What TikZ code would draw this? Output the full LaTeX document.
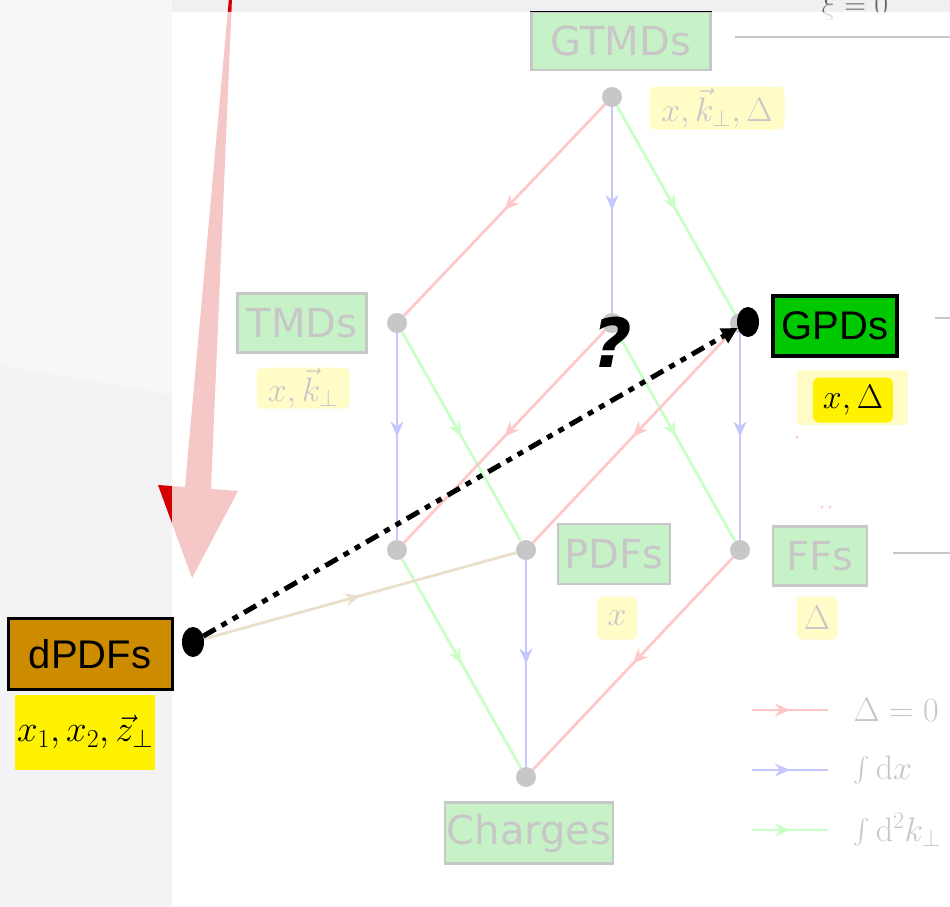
\RequirePackage{fix-cm}
\documentclass[tikz,border=0pt]{standalone}
\usepackage{amsmath}
\usepackage{fontspec}
\newfontfamily\dejavu{DejaVu Sans}
\newfontfamily\arialike{Liberation Sans}
\usetikzlibrary{arrows.meta,decorations.markings,shapes.geometric,positioning}
\definecolor{boxgreen}{RGB}{0,200,0}
\definecolor{dpdfbrown}{RGB}{205,140,0}
\definecolor{arrowred}{RGB}{210,0,0}
\definecolor{tanline}{RGB}{160,110,20}
\definecolor{leftgray}{RGB}{247,247,248}
\definecolor{lowgray}{RGB}{243,243,245}
\definecolor{stripgray}{RGB}{240,240,242}
\newcommand{\setfs}[1]{\fontsize{#1}{#1}\selectfont}

\begin{document}
\begin{tikzpicture}[x=1pt,y=-1pt,>=Stealth,
  dot/.style={circle,fill=black,inner sep=0pt,minimum size=20pt},
  bigdot/.style={ellipse,fill=black,inner sep=0pt,minimum width=22pt,minimum height=30pt},
  box/.style={draw=black,line width=2.5pt,fill=boxgreen,inner sep=0pt,font=\dejavu\setfs{40}},
  lbl/.style={fill=yellow,rounded corners=6pt,inner sep=0pt,font=\setfs{34}},
  link/.style={line width=2.7pt,postaction={decorate},
    decoration={markings,mark=at position 0.5 with {\arrow{Stealth[length=15pt,width=13pt]}}}}]
  \useasboundingbox (0,0) rectangle (950,907);
  \clip (0,0) rectangle (950,907);
  % screen background
  \fill[leftgray] (0,0) rectangle (950,907);
  \fill[lowgray] (0,365) -- (172,395) -- (172,907) -- (0,907) -- cycle;
  \fill[stripgray] (172,0) rectangle (950,12);
  \fill[white] (172,12) rectangle (950,907);
  % big arrow from above
  \fill[arrowred] (229,-2) -- (232,-2) -- (211,489) -- (238,491) -- (192,578)
      -- (158,485) -- (185,487) -- cycle;
  \node[anchor=base,font=\setfs{30},black!60] (xi) at (855,15) {$\xi=0$};
  \draw[line width=2pt] (735,37) -- (950,37);
  \draw[line width=2pt] (935,318) -- (950,318);
  \draw[line width=2pt] (893,553) -- (950,553);
  % vertices
  \node[dot] (gtmd) at (612,97)  {};
  \node[dot] (tmd)  at (397,323) {};
  \node[dot] (mid)  at (612,323) {};
  \node[dot] (gpd)  at (740,323) {};
  \node[dot] (low)  at (397,550) {};
  \node[dot] (pdf)  at (526,550) {};
  \node[dot] (ff)   at (740,550) {};
  \node[dot] (chg)  at (526,777) {};
  % edges
  \draw[link,red]   (gtmd) -- (tmd);
  \draw[link,blue]  (gtmd) -- (mid);
  \draw[link,green] (gtmd) -- (gpd);
  \draw[link,blue]  (tmd) -- (low);
  \draw[link,green] (tmd) -- (pdf);
  \draw[link,red]   (mid) -- (low);
  \draw[link,green] (mid) -- (ff);
  \draw[link,red]   (gpd) -- (pdf);
  \draw[link,blue]  (gpd) -- (ff);
  \draw[link,green] (low) -- (chg);
  \draw[link,blue]  (pdf) -- (chg);
  \draw[link,red]   (ff) -- (chg);
  % names and variables
  \node[box,minimum width=179pt,minimum height=58pt] (gtmdbox) at (621,41)  {GTMDs};
  \node[box,minimum width=129pt,minimum height=59pt] (tmdbox)  at (302,323) {TMDs};
  \node[box,minimum width=112pt,minimum height=60pt] (pdfbox)  at (614,554) {PDFs};
  \node[box,minimum width=94pt,minimum height=59pt]  (ffbox)   at (820,556) {FFs};
  \node[box,minimum width=168pt,minimum height=61pt] (chgbox)  at (529,833) {Charges};
  \node[lbl,minimum width=135pt,minimum height=43pt] (gtmdlbl) at (717,108) {$x,\vec{k}_\perp,\Delta$};
  \node[lbl,minimum width=93pt,minimum height=41pt]  (tmdlbl)  at (303,388) {$x,\vec{k}_\perp$};
  \node[lbl,minimum width=40pt,minimum height=43pt]  (pdflbl)  at (617,618) {$x$};
  \node[lbl,minimum width=41pt,minimum height=43pt]  (fflbl)   at (817,618) {$\Delta$};
  \node[lbl,rounded corners=0pt,minimum width=111pt,minimum height=55pt] (gpdold) at (852,397) {};
  \fill[red] (797,437) circle (1.5pt) (822,507) circle (1.5pt) (830,507) circle (1.5pt);
  % legend
  \coordinate (la1) at (752,710); \coordinate (lb1) at (828,710);
  \coordinate (la2) at (752,770); \coordinate (lb2) at (828,770);
  \coordinate (la3) at (752,830); \coordinate (lb3) at (828,830);
  \draw[link,red]   (la1) -- (lb1);
  \draw[link,blue]  (la2) -- (lb2);
  \draw[link,green] (la3) -- (lb3);
  \node[anchor=west,font=\setfs{34}] (leg1) at (850,710) {$\Delta=0$};
  \node[anchor=west,font=\setfs{34}] (leg2) at (850,770) {$\int\mathrm{d}x$};
  \node[anchor=west,font=\setfs{34}] (leg3) at (850,830) {$\int\mathrm{d}^2k_\perp$};
  % dPDF feeding the PDFs
  \node[bigdot] (dpdfpt) at (193,642) {};
  \draw[link,tanline] (dpdfpt) -- (pdf);
  % faded slide
  \fill[white,opacity=0.78] (172,12) rectangle (950,907);
  % highlighted part
  \node[box,line width=3.5pt,font=\arialike\setfs{40},minimum width=124pt,minimum height=60pt] (gpdbox) at (835,326) {GPDs};
  \node[lbl,minimum width=80pt,minimum height=45pt] (gpdlbl) at (853,400) {$x,\Delta$};
  \node[box,line width=3pt,fill=dpdfbrown,font=\arialike\setfs{40},minimum width=164pt,minimum height=71pt] (dpdfbox) at (90,654) {dPDFs};
  \node[lbl,rounded corners=0pt,minimum width=140pt,minimum height=75pt,font=\setfs{37}] (dpdflbl) at (85,732) {$x_1,x_2,\vec{z}_\perp$};
  \node[bigdot] (dpdfpt) at (193,642) {};
  \node[bigdot] (gpdpt) at (748,322) {};
  \draw[line width=5pt,dash pattern=on 14pt off 7pt on 6pt off 7pt on 6pt off 7pt,
      -{Triangle[length=16pt,width=16pt]}] (dpdfpt) -- (gpdpt);
  \node[font=\dejavu\bfseries\itshape\setfs{68}] (qmark) at (612,342) {?};
\end{tikzpicture}
\end{document}
